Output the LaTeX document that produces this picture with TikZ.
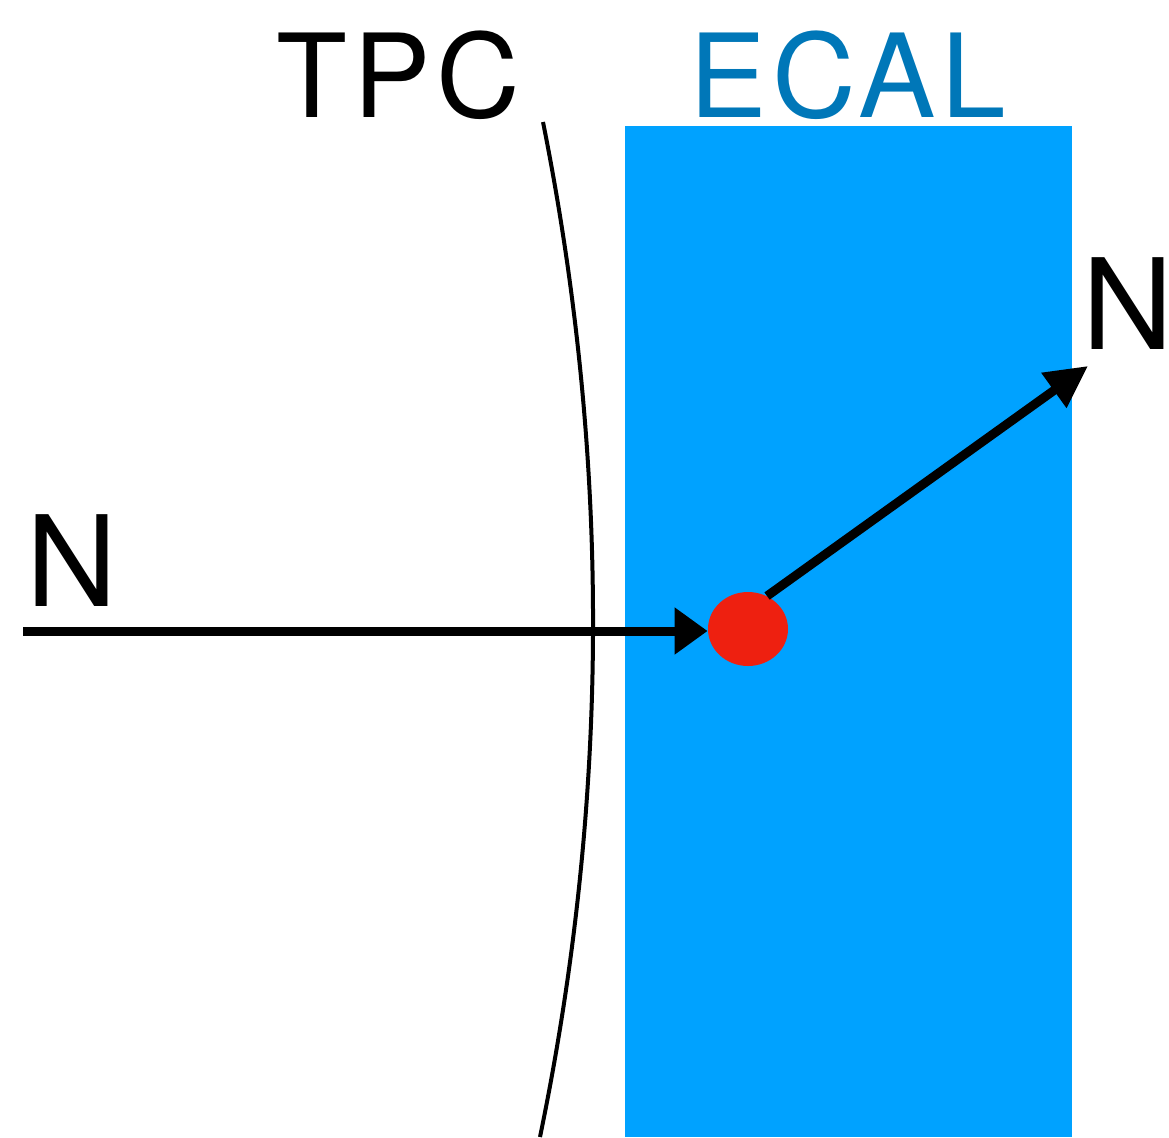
\documentclass[tikz,border=0pt]{standalone}
\usepackage{fontspec}
\setmainfont{TeX Gyre Heros}
\usetikzlibrary{arrows.meta,shapes.geometric}
\definecolor{ecalblue}{RGB}{0,162,255}
\definecolor{ecaltext}{RGB}{0,119,184}
\definecolor{hitred}{RGB}{238,32,16}
\tikzset{
  lbl/.style={anchor=base, inner sep=0pt, font=\fontsize{58pt}{60pt}\selectfont\addfontfeature{LetterSpace=5}},
  nlbl/.style={anchor=base, inner sep=0pt, font=\fontsize{63pt}{66pt}\selectfont},
  track/.style={line width=4.5pt, -{Triangle[length=16.5pt, width=22.5pt]}},
}
\begin{document}
\begin{tikzpicture}[x=0.5pt, y=-0.5pt]
  \useasboundingbox (0,0) rectangle (1169,1137);
  \fill[ecalblue] (625,126) rectangle (1072,1137);
  \draw[line width=2pt] (543,122) .. controls (610.7,461) and (609.7,799.3) .. (540,1137);
  \node[lbl] (tpc) at (398.5,117) {TPC};
  \node[lbl, text=ecaltext] (ecal) at (847.5,117) {ECAL};
  \node[nlbl] (nin) at (72,606) {N};
  \node[nlbl] (nout) at (1128,349) {N};
  \coordinate (start) at (23,631);
  \coordinate (tip) at (1088,366);
  \node[ellipse, fill=hitred, minimum width=40pt, minimum height=37pt, inner sep=0pt] (hit) at (748,629) {};
  \draw[track] (start) -- (hit.west |- start);
  \draw[line width=4.5pt, -{Triangle[length=21pt, width=20.5pt]}] (hit.60) -- (tip);
\end{tikzpicture}
\end{document}
